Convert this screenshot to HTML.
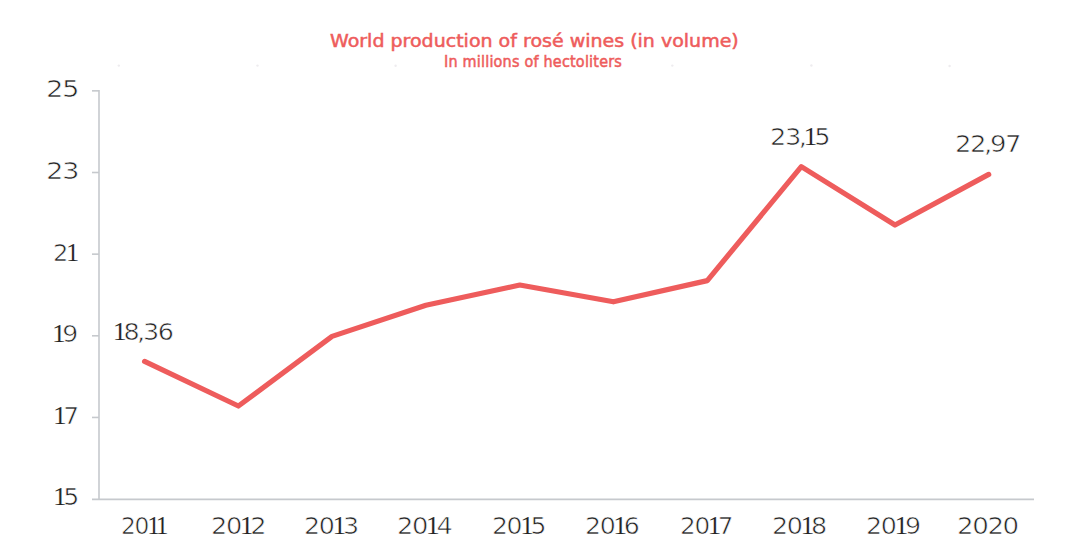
<!DOCTYPE html>
<html><head><meta charset="utf-8">
<style>
html,body{margin:0;padding:0;background:#fff;}
body{width:1078px;height:560px;position:relative;overflow:hidden;}
.n,.ti,.su{position:absolute;white-space:nowrap;transform-origin:0 0;line-height:1;}
.n{font-family:"DejaVu Sans","Liberation Sans",sans-serif;font-weight:400;font-size:22.5px;letter-spacing:-1.2px;color:#222;-webkit-text-stroke:0.6px #fff;}
.o{font-family:"Liberation Serif",serif;font-weight:400;font-size:24.6px;letter-spacing:-3.0px;margin-left:-1.0px;-webkit-text-stroke:0.15px #fff;}
.c{letter-spacing:-2px;margin-left:-1px;}
.ti{font-family:"DejaVu Sans","Liberation Sans",sans-serif;font-weight:400;font-size:19px;color:#EE5C5C;-webkit-text-stroke:0.55px #EE5C5C;letter-spacing:0px;}
.su{font-family:"DejaVu Sans","Liberation Sans",sans-serif;font-weight:400;font-size:14.5px;color:#EE5C5C;-webkit-text-stroke:0.5px #EE5C5C;letter-spacing:0.2px;}
svg{position:absolute;left:0;top:0;}
</style></head>
<body>
<svg width="1078" height="560" viewBox="0 0 1078 560">
<g stroke="#C6C9CD" stroke-width="1.6" fill="none">
<line x1="99" y1="90.05" x2="99" y2="499.3"/>
<line x1="92" y1="90.85" x2="99" y2="90.85"/><line x1="92" y1="172.5" x2="99" y2="172.5"/><line x1="92" y1="254.15" x2="99" y2="254.15"/><line x1="92" y1="335.8" x2="99" y2="335.8"/><line x1="92" y1="417.45" x2="99" y2="417.45"/>
</g>
<line x1="92" y1="499.3" x2="1034" y2="499.3" stroke="#C6C9CD" stroke-width="1.8"/>
<g fill="#EEECEF"><circle cx="118.8" cy="65.6" r="1.2"/><circle cx="257.5" cy="65.6" r="1.2"/><circle cx="395.6" cy="65.8" r="1.2"/><circle cx="672.3" cy="65.6" r="1.2"/><circle cx="811.4" cy="65.5" r="1.2"/><circle cx="949.6" cy="66.0" r="1.2"/></g>
<polyline fill="none" stroke="#EE5C5C" stroke-width="5.2" stroke-linejoin="round" stroke-linecap="round" points="144.6,361.4 238.4,406.0 332.0,336.4 425.9,305.3 519.8,285.0 613.4,301.8 707.3,280.6 801.3,166.6 895.0,225.0 988.7,174.4"/>
</svg>
<div class="ti" id="title" style="left:330.05px;top:32.11px;transform:scale(1.0004,0.9520)">World production of rosé wines (in volume)</div>
<div class="su" id="sub" style="left:444.00px;top:54.15px;transform:scale(0.9938,1.0631)">In millions of hectoliters</div>
<div class="n" id="y25" style="left:46.19px;top:78.11px;transform:scale(1.2218,0.9850)">25</div>
<div class="n" id="y23" style="left:46.10px;top:160.10px;transform:scale(1.2241,0.9850)">23</div>
<div class="n" id="y21" style="left:53.23px;top:241.10px;transform:scale(1.0745,0.9850)">2<span class="o">1</span></div>
<div class="n" id="y19" style="left:53.12px;top:322.09px;transform:scale(1.1165,0.9850)"><span class="o">1</span>9</div>
<div class="n" id="y17" style="left:54.16px;top:404.06px;transform:scale(1.1134,0.9850)"><span class="o">1</span>7</div>
<div class="n" id="y15" style="left:54.02px;top:485.19px;transform:scale(1.1228,0.9850)"><span class="o">1</span>5</div>
<div class="n" id="x2011" style="left:120.99px;top:514.24px;transform:scale(1.0355,0.9850)">20<span class="o">1</span><span class="o">1</span></div>
<div class="n" id="x2012" style="left:210.65px;top:514.15px;transform:scale(1.1393,0.9850)">20<span class="o">1</span>2</div>
<div class="n" id="x2013" style="left:304.20px;top:514.19px;transform:scale(1.1258,0.9850)">20<span class="o">1</span>3</div>
<div class="n" id="x2014" style="left:397.05px;top:514.05px;transform:scale(1.1414,0.9850)">20<span class="o">1</span>4</div>
<div class="n" id="x2015" style="left:492.06px;top:514.08px;transform:scale(1.1148,0.9850)">20<span class="o">1</span>5</div>
<div class="n" id="x2016" style="left:585.00px;top:514.03px;transform:scale(1.1225,0.9850)">20<span class="o">1</span>6</div>
<div class="n" id="x2017" style="left:679.98px;top:514.09px;transform:scale(1.0963,0.9850)">20<span class="o">1</span>7</div>
<div class="n" id="x2018" style="left:772.17px;top:514.10px;transform:scale(1.1290,0.9850)">20<span class="o">1</span>8</div>
<div class="n" id="x2019" style="left:866.05px;top:514.06px;transform:scale(1.1261,0.9850)">20<span class="o">1</span>9</div>
<div class="n" id="x2020" style="left:956.97px;top:515.06px;transform:scale(1.1593,0.9850)">2020</div>
<div class="n" id="d1" style="left:114.04px;top:320.06px;transform:scale(1.1319,0.9850)"><span class="o">1</span>8<span class="c">,</span>36</div>
<div class="n" id="d2" style="left:770.23px;top:125.15px;transform:scale(1.1410,0.9850)">23<span class="c">,</span><span class="o">1</span>5</div>
<div class="n" id="d3" style="left:955.21px;top:133.08px;transform:scale(1.1503,0.9850)">22<span class="c">,</span>97</div>
</body></html>
